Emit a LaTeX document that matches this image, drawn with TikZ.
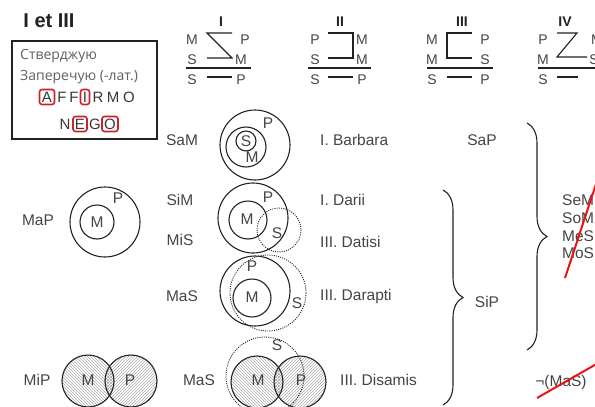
\documentclass[tikz,border=0pt]{standalone}
\usepackage{fontspec}
\setmainfont{Liberation Sans}
\newfontfamily\boxfont{Open Sans}
\usetikzlibrary{patterns,decorations.pathreplacing}
\definecolor{txt}{RGB}{68,68,68}
\definecolor{ln}{RGB}{34,34,34}
\definecolor{boxred}{RGB}{210,30,40}
\definecolor{slash}{RGB}{230,20,20}
\tikzset{
  lbl/.style={text=txt,inner sep=0pt,font=\fontsize{15.5}{17}\selectfont},
  fig/.style={text=txt,inner sep=0pt,font=\fontsize{14}{16}\selectfont},
  roman/.style={text=ln,inner sep=0pt,font=\fontsize{14}{16}\selectfont\bfseries},
  cyr/.style={text=txt!85,inner sep=0pt,anchor=west,font=\boxfont\fontsize{14}{16}\selectfont},
  let/.style={text=ln!90,inner sep=0pt,minimum width=9pt,minimum height=15pt,font=\fontsize{15}{17}\selectfont},
  redbox/.style={draw=boxred,line width=1.6pt,rounded corners=2.5pt},
  figline/.style={draw=ln,line width=1.1pt},
  circ/.style={draw=ln,line width=1.1pt},
  dcirc/.style={draw=ln,line width=0.9pt,dash pattern=on 1pt off 1.2pt},
  hatchM/.style={pattern=north west lines,pattern color=gray!65},
  hatchP/.style={pattern=north east lines,pattern color=gray!65},
  brc/.style={draw=ln,line width=1.1pt,decorate,decoration={brace,amplitude=20pt}},
  slashline/.style={draw=slash,line width=2pt}
}
\begin{document}
\begin{tikzpicture}[x=1pt,y=-1pt]
\useasboundingbox (0,0) rectangle (595,407);
\clip (0,0) rectangle (595,407);
% title
\node[text=ln,inner sep=0pt,font=\fontsize{20}{22}\selectfont\bfseries] (title) at (49,21) {I et III};
% legend box
\draw[draw=ln,line width=1.3pt] (12,41) rectangle (157,139);
\node[cyr] (aff) at (20,56) {Стверджую};
\node[cyr] (neg) at (20,77) {Заперечую (-лат.)};
\node[let,redbox,minimum width=15pt] (lA) at (47,97) {A};
\node[let] (lF1) at (62,97) {F};
\node[let] (lF2) at (74,97) {F};
\node[let,redbox,minimum width=9pt] (lI) at (85,97) {I};
\node[let] (lR) at (98,97) {R};
\node[let] (lM) at (113,97) {M};
\node[let] (lO) at (129,97) {O};
\node[let] (nN) at (65,124) {N};
\node[let,redbox,minimum width=14pt] (nE) at (80,124) {E};
\node[let] (nG) at (95,124) {G};
\node[let,redbox,minimum width=16pt] (nO) at (110,124) {O};
% figure I
\node[roman] (r1) at (221,22) {I};
\node[fig] (f1a) at (192,40) {M};
\node[fig] (f1b) at (245,40) {P};
\node[fig] (f1c) at (192,60) {S};
\node[fig] (f1d) at (241,60) {M};
\node[fig] (f1e) at (192,80) {S};
\node[fig] (f1f) at (241,80) {P};
\draw[figline] (232,33) -- (207,33) -- (232,58) -- (207,58);
\draw[figline] (186,68) -- (251,68);
\draw[figline] (207,77) -- (232,77);
% figure II
\node[roman] (r2) at (340,22) {II};
\node[fig] (f2a) at (315,40) {P};
\node[fig] (f2b) at (362,40) {M};
\node[fig] (f2c) at (315,60) {S};
\node[fig] (f2d) at (362,60) {M};
\node[fig] (f2e) at (315,80) {S};
\node[fig] (f2f) at (362,80) {P};
\draw[figline] (328,33) -- (353,33) -- (353,58) -- (328,58);
\draw[figline] (308,68) -- (371,68);
\draw[figline] (328,77) -- (353,77);
% figure III
\node[roman] (r3) at (462,22) {III};
\node[fig] (f3a) at (432,40) {M};
\node[fig] (f3b) at (485,40) {P};
\node[fig] (f3c) at (432,60) {M};
\node[fig] (f3d) at (485,60) {S};
\node[fig] (f3e) at (432,80) {S};
\node[fig] (f3f) at (485,80) {P};
\draw[figline] (472,33) -- (447,33) -- (447,58) -- (472,58);
\draw[figline] (427,68) -- (493,68);
\draw[figline] (447,77) -- (472,77);
% figure IV
\node[roman] (r4) at (565,22) {IV};
\node[fig] (f4a) at (543,40) {P};
\node[fig] (f4b) at (597,40) {M};
\node[fig] (f4c) at (543,60) {M};
\node[fig] (f4d) at (594,60) {S};
\node[fig] (f4e) at (543,80) {S};
\node[fig] (f4f) at (600,80) {P};
\draw[figline] (557,33) -- (577,33) -- (557,57) -- (587,57);
\draw[figline] (538,68) -- (600,68);
\draw[figline] (557,77) -- (578,77);
% MaP
\node[lbl] (map) at (38,220) {MaP};
\draw[circ] (105,222) circle (35);
\draw[circ] (97,222) circle (17);
\node[lbl] (mapP) at (118,198) {P};
\node[lbl] (mapM) at (97,222) {M};
% Barbara
\node[lbl] (sam) at (182,140) {SaM};
\draw[circ] (255,145) circle (35);
\draw[circ] (246,147) circle (20);
\draw[circ] (246,141) circle (10);
\node[lbl] (bP) at (268,123) {P};
\node[lbl] (bM) at (252,157) {M};
\node[lbl] (bS) at (246,141) {S};
\node[lbl,anchor=west] (barbara) at (320,140) {I. Barbara};
% Darii / Datisi
\node[lbl] (sim) at (180,200) {SiM};
\node[lbl] (mis) at (180,240) {MiS};
\draw[circ] (253,218) circle (35);
\draw[circ] (248,220) circle (19);
\draw[dcirc] (279,230) circle (22);
\node[lbl] (dP) at (268,197) {P};
\node[lbl] (dM) at (247,219) {M};
\node[lbl] (dS) at (277,233) {S};
\node[lbl,anchor=west] (darii) at (320,200) {I. Darii};
\node[lbl,anchor=west] (datisi) at (320,242) {III. Datisi};
% Darapti
\node[lbl] (mas1) at (182,296) {MaS};
\draw[circ] (255,291) circle (35);
\draw[dcirc] (268,293) circle (38);
\draw[circ] (252,298) circle (19);
\node[lbl] (aP) at (252,266) {P};
\node[lbl] (aM) at (252,297) {M};
\node[lbl] (aS) at (297,303) {S};
\node[lbl,anchor=west] (darapti) at (320,296) {III. Darapti};
% MiP venn
\node[lbl] (mip) at (37,380) {MiP};
\fill[hatchM] (88,381) circle (26);
\fill[hatchP] (131,381) circle (26);
\draw[circ] (88,381) circle (26);
\draw[circ] (131,381) circle (26);
\node[lbl] (vM) at (88,380) {M};
\node[lbl] (vP) at (130,380) {P};
% Disamis
\node[lbl] (mas2) at (199,380) {MaS};
\fill[hatchM] (257,382) circle (26);
\fill[hatchP] (300,382) circle (26);
\draw[dcirc] (265,376) circle (39);
\draw[circ] (257,382) circle (26);
\draw[circ] (300,382) circle (26);
\node[lbl] (sM) at (258,380) {M};
\node[lbl] (sP) at (301,380) {P};
\node[lbl] (sS) at (277,345) {S};
\node[lbl,anchor=west] (disamis) at (340,380) {III. Disamis};
% right side
\node[lbl] (sap) at (482,140) {SaP};
\draw[brc] (527,123) -- (527,350);
\draw[brc] (443,190) -- (443,405);
\node[lbl] (sip) at (487,302) {SiP};
\node[lbl,anchor=west] (sem) at (562,200) {SeM};
\node[lbl,anchor=west] (som) at (562,218) {SoM};
\node[lbl,anchor=west] (mes) at (562,236) {MeS};
\node[lbl,anchor=west] (mos) at (562,253) {MoS};
\draw[slashline] (565,278) -- (600,172);
\node[lbl] (nmas) at (561,382) {¬(MaS)};
\draw[slashline] (537,398) -- (600,362);
\end{tikzpicture}
\end{document}
